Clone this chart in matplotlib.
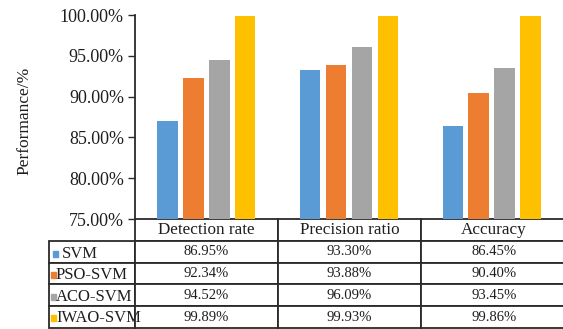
import matplotlib
matplotlib.use('Agg')
import matplotlib.pyplot as plt
from matplotlib.patches import Rectangle
from matplotlib.table import Table
import numpy as np

plt.rcParams['font.family'] = ['Liberation Serif', 'DejaVu Serif']

metrics = ['Detection rate', 'Precision ratio', 'Accuracy']
models = ['SVM', 'PSO-SVM', 'ACO-SVM', 'IWAO-SVM']
svm = [86.95, 93.30, 86.45]
pso_svm = [92.34, 93.88, 90.40]
aco_svm = [94.52, 96.09, 93.45]
iwao_svm = [99.89, 99.93, 99.86]
yticks = [75, 80, 85, 90, 95, 100]

series = [svm, pso_svm, aco_svm, iwao_svm]
colors = ['#5B9BD5', '#ED7D31', '#A5A5A5', '#FFC000']
line_col = '#2a2a2a'
text_col = '#1e1e1e'

fig = plt.figure(figsize=(5.63, 3.29), dpi=100)
W, H = 563, 329
ax_l, ax_r, ax_t, ax_b = 135, 563, 15, 219
ax = fig.add_axes([ax_l / W, 1 - ax_b / H, (ax_r - ax_l) / W, (ax_b - ax_t) / H])

x = np.arange(len(metrics))
width = 0.143
pitch = 0.182
for i, (vals, c) in enumerate(zip(series, colors)):
    ax.bar(x + (i - 1.5) * pitch, np.array(vals) - 75, width=width, bottom=75, color=c)

ax.set_xlim(-0.5, 2.5)
ax.set_ylim(75, 100)
ax.set_yticks(yticks)
ax.set_yticklabels([f'{v:.2f}%' for v in yticks], fontsize=13, color=text_col)
ax.set_xticks([])
ax.tick_params(axis='y', direction='out', length=5, width=1, color=line_col, pad=3)
for s in ['top', 'right', 'bottom']:
    ax.spines[s].set_visible(False)
ax.spines['left'].set_color(line_col)
ax.spines['left'].set_linewidth(1.3)

fig.text(24 / W, 1 - 121 / H, 'Performance/%', rotation=90, ha='center', va='center',
         fontsize=12.5, color=text_col)

# data table under the bars, running off the right edge
axw = ax_r - ax_l
axh = ax_b - ax_t
tb_left = (49 - ax_l) / axw
tb_right = (567 - ax_l) / axw
tb_bottom = (ax_b - 328) / axh
tb = Table(ax, bbox=[tb_left, tb_bottom, tb_right - tb_left, -tb_bottom])
row_h = 1.0
lab_w = 86
col_ws = [143, 143, 146]
for j, m in enumerate(metrics):
    cell = tb.add_cell(0, j + 1, width=col_ws[j], height=row_h, text=m, loc='center')
    cell.get_text().set_fontsize(12.3)
for i, (name, vals) in enumerate(zip(models, series)):
    cell = tb.add_cell(i + 1, 0, width=lab_w, height=row_h, text='', loc='left')
    for j, v in enumerate(vals):
        cell = tb.add_cell(i + 1, j + 1, width=col_ws[j], height=row_h, text=f'{v:.2f}%', loc='center')
        cell.get_text().set_fontsize(10.5)
for cell in tb.get_celld().values():
    cell.set_edgecolor(line_col)
    cell.set_linewidth(1.3)
    cell.get_text().set_color(text_col)
tb.auto_set_font_size(False)
tb.set_clip_on(False)
ax.add_table(tb)

# row labels with colour keys
label_x = [62, 56, 56, 56]
for i, (name, c) in enumerate(zip(models, colors)):
    yc = 1 - (242 + 21.6 * i + 11.5) / H
    key_x = 53 if i == 0 else 51
    fig.patches.append(Rectangle((key_x / W, yc - 3 / H), 5 / W, 6 / H, color=c,
                                 transform=fig.transFigure, figure=fig))
    fig.text(label_x[i] / W, yc, name, ha='left', va='center', fontsize=12, color=text_col)

fig.savefig('out.png', dpi=100)
